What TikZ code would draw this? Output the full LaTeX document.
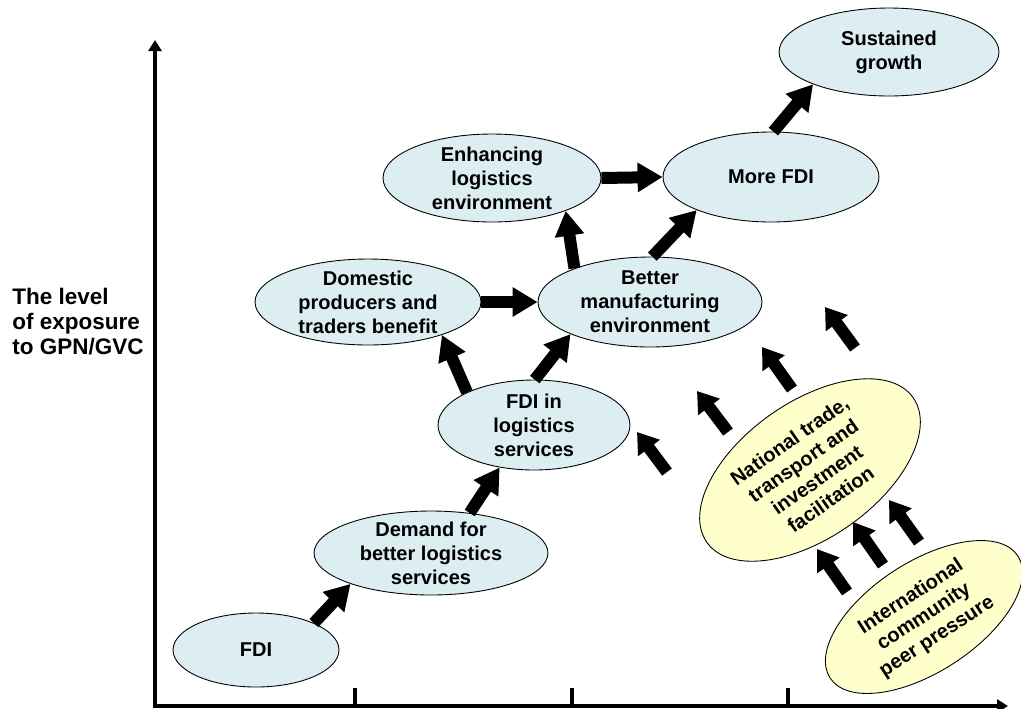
\documentclass[tikz,border=0pt]{standalone}
\usepackage{fontspec}
\setmainfont{Liberation Sans}
\usetikzlibrary{shapes.geometric,arrows.meta}
\definecolor{bluefill}{RGB}{220,238,242}
\definecolor{yellowfill}{RGB}{255,255,204}
\tikzset{
  blob/.style={ellipse, draw, line width=0.5pt, fill=bluefill, align=center,
    inner xsep=0pt, inner ysep=-0.25cm, font=\fontsize{11.4pt}{13.6pt}\selectfont\bfseries},
  yblob/.style={blob, fill=yellowfill},
  bigarrow/.style={line width=0.24cm, -{Triangle[width=0.56cm, length=0.5cm]}},
  pusharrow/.style={line width=0.24cm, -{Triangle[width=0.52cm, length=0.4cm]}},
  axis/.style={line width=0.08cm, {Triangle[width=0.26cm, length=0.22cm]}-{Triangle[width=0.26cm, length=0.22cm]}},
  tick/.style={line width=0.08cm}
}
\begin{document}
\begin{tikzpicture}[x=0.02cm, y=-0.02cm]
  \useasboundingbox (0,0) rectangle (1021,708);
  % axes
  \coordinate (origin) at (155,706);
  \coordinate (ytop) at (155,40);
  \coordinate (xend) at (1008,706);
  \draw[axis] (ytop) -- (origin) -- (xend);
  \foreach \t in {355,572,788} \draw[tick] (\t,706) -- (\t,688);
  \node[align=left, anchor=north west, inner sep=0pt, font=\fontsize{12.8pt}{14.2pt}\selectfont\bfseries] (ylab) at (12,288) {The level\\of exposure\\to GPN/GVC};
  % stages
  \node[blob, minimum width=3.32cm, minimum height=1.48cm] (fdi) at (256,650) {FDI};
  \node[blob, minimum width=4.68cm, minimum height=1.68cm] (demand) at (431,553) {Demand for\\better logistics\\services};
  \node[blob, minimum width=3.84cm, minimum height=1.8cm] (fdilog) at (534,425) {FDI in\\logistics\\services};
  \node[blob, minimum width=4.52cm, minimum height=1.72cm] (domestic) at (368,302) {Domestic\\producers and\\traders benefit};
  \node[blob, minimum width=4.48cm, minimum height=1.8cm] (better) at (650,302) {Better\\manufacturing\\environment};
  \node[blob, minimum width=4.36cm, minimum height=1.76cm] (enhancing) at (492,178) {Enhancing\\logistics\\environment};
  \node[blob, minimum width=4.32cm, minimum height=1.8cm] (morefdi) at (771,177) {More FDI};
  \node[blob, minimum width=4.4cm, minimum height=1.76cm] (growth) at (889,52) {Sustained\\growth};
  \node[yblob, minimum width=5.04cm, minimum height=2.72cm, rotate=35] (national) at (810,470) {National trade,\\transport and\\investment\\facilitation};
  \node[yblob, minimum width=4.48cm, minimum height=2.2cm, rotate=33] (peer) at (924,617) {International\\community\\peer pressure};
  % links
  \draw[bigarrow] (fdi.25) -- (demand.201);
  \draw[bigarrow] (demand.46) -- (fdilog.231);
  \draw[bigarrow] (fdilog.154) -- (domestic.336);
  \draw[bigarrow] (fdilog.89) -- (better.202);
  \draw[bigarrow] (domestic.east) -- (better.west);
  \draw[bigarrow] (better.156) -- (enhancing.336);
  \draw[bigarrow] (enhancing.east) -- (morefdi.west);
  \draw[bigarrow] (better.87) -- (morefdi.204);
  \draw[bigarrow] (morefdi.87) -- (growth.203);
  % pushes
  \foreach \xa/\ya/\xb/\yb in {667/472/637/432, 728/432/697/391, 792/389/762/347, 855/348/825/307,
                               847/592/817/549, 883/565/853/522, 919/542/889/500}
    \draw[pusharrow] (\xa,\ya) -- (\xb,\yb);
\end{tikzpicture}
\end{document}
